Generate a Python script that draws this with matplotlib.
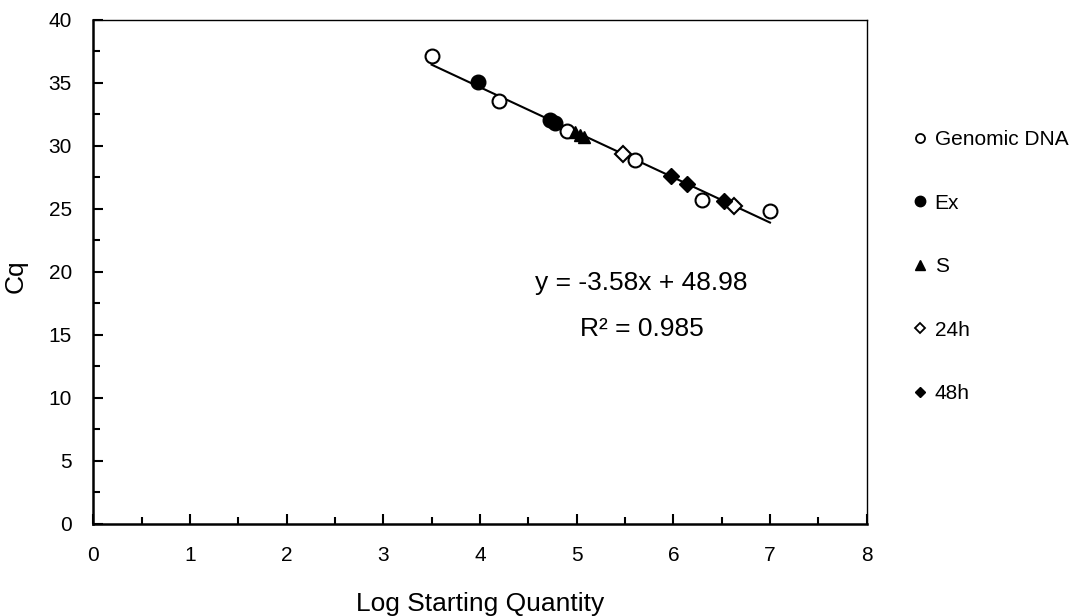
import matplotlib
matplotlib.use("Agg")
from matplotlib import pyplot as plt
from matplotlib.lines import Line2D
from matplotlib.ticker import MultipleLocator

plt.rcParams['font.family'] = ['Liberation Sans', 'DejaVu Sans']

#--- data ------------------------------------------
genomic_x = [3.5, 4.2, 4.9, 5.6, 6.3, 7.0]
genomic_y = [37.1, 33.6, 31.2, 28.9, 25.7, 24.8]
ex_x = [3.98, 4.72, 4.78]
ex_y = [35.1, 32.1, 31.8]
s_x = [4.98, 5.03, 5.08]
s_y = [31.1, 30.9, 30.7]
h24_x = [5.48, 6.63]
h24_y = [29.4, 25.2]
h48_x = [5.98, 6.14, 6.52]
h48_y = [27.6, 27.0, 25.6]

slope, intercept, r2 = -3.58, 48.98, 0.985
series_names = ["Genomic DNA", "Ex", "S", "24h", "48h"]

#--- figure ----------------------------------------
fig = plt.figure(figsize=(10.75, 6.16), dpi=100)
ax = fig.add_axes([0.0868, 0.1494, 0.7194, 0.8182])

# trendline over the range of the data
all_x = genomic_x + ex_x + s_x + h24_x + h48_x
x0, x1 = min(all_x), max(all_x)
ax.plot([x0, x1], [slope*x0 + intercept, slope*x1 + intercept],
        color='black', lw=1.5, zorder=2)

ax.plot(h24_x, h24_y, ls='none', marker='D', ms=8, mfc='white',
        mec='black', mew=1.5, zorder=3)
ax.plot(genomic_x, genomic_y, ls='none', marker='o', ms=10, mfc='white',
        mec='black', mew=1.5, zorder=3)
ax.plot(ex_x, ex_y, ls='none', marker='o', ms=10.5, mfc='black',
        mec='black', zorder=4)
ax.plot(s_x, s_y, ls='none', marker='^', ms=9, mfc='black',
        mec='black', zorder=4)
ax.plot(h48_x, h48_y, ls='none', marker='D', ms=8, mfc='black',
        mec='black', zorder=4)

ax.text(5.67, 19.1, "y = %.2fx + %.2f" % (slope, intercept),
        fontsize=19, ha='center', va='center')
ax.text(5.67, 15.5, "R² = %.3f" % r2, fontsize=19, ha='center', va='center')

ax.set_xlim(0, 8)
ax.set_ylim(0, 40)
ax.xaxis.set_major_locator(MultipleLocator(1))
ax.xaxis.set_minor_locator(MultipleLocator(0.5))
ax.yaxis.set_major_locator(MultipleLocator(5))
ax.yaxis.set_minor_locator(MultipleLocator(2.5))
ax.tick_params(which='both', direction='in', width=1.5, labelsize=15,
               top=False, right=False)
ax.tick_params(which='major', length=7)
ax.tick_params(which='minor', length=5)
ax.tick_params(axis='x', which='major', pad=16)
ax.tick_params(axis='y', which='major', pad=15.5)

for side in ['left', 'bottom']:
  ax.spines[side].set_linewidth(1.8)
for side in ['top', 'right']:
  ax.spines[side].set_linewidth(1.0)

ax.set_xlabel("Log Starting Quantity", fontsize=19)
ax.set_ylabel("Cq", fontsize=19)
ax.xaxis.set_label_coords(0.5, -0.134)
ax.yaxis.set_label_coords(-0.0845, 0.492)

handles = [
  Line2D([], [], ls='none', marker='o', ms=6.5, mfc='white', mec='black', mew=1.3),
  Line2D([], [], ls='none', marker='o', ms=7.5, mfc='black', mec='black'),
  Line2D([], [], ls='none', marker='^', ms=7, mfc='black', mec='black'),
  Line2D([], [], ls='none', marker='D', ms=5.5, mfc='white', mec='black', mew=1.3),
  Line2D([], [], ls='none', marker='D', ms=5.5, mfc='black', mec='black'),
]
fig.legend(handles, series_names, loc='upper left',
           bbox_to_anchor=(0.850, 0.789), bbox_transform=fig.transFigure,
           frameon=False, fontsize=15, handlelength=0.6, handletextpad=0.4,
           labelspacing=2.14, borderpad=0, borderaxespad=0)

fig.savefig("out.png", dpi=100)
